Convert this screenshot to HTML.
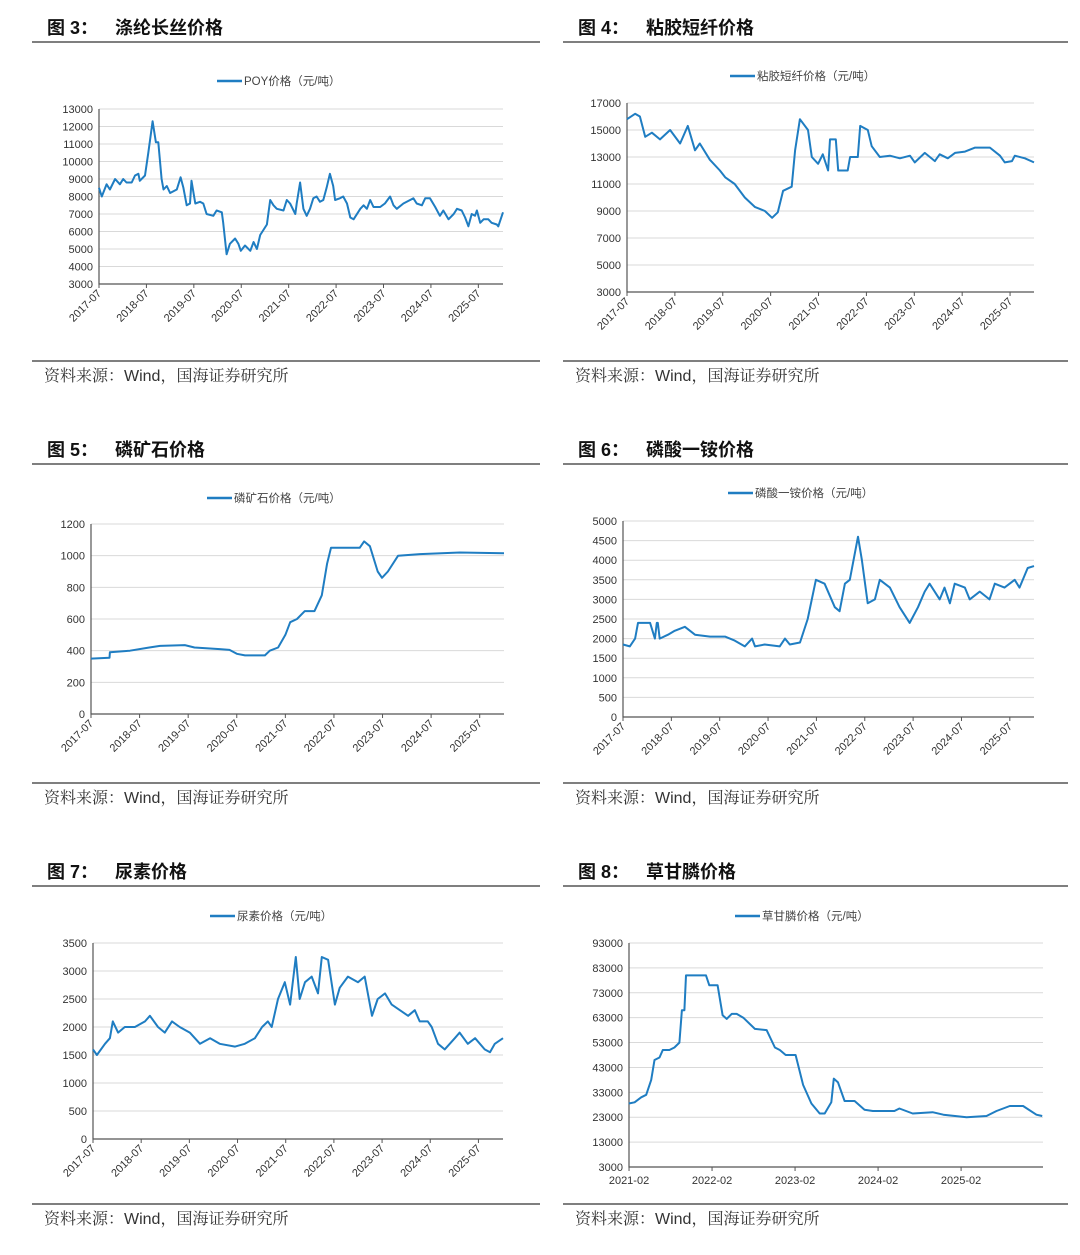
<!DOCTYPE html>
<html><head><meta charset="utf-8"><style>
html,body{margin:0;padding:0;background:#fff;}
svg{display:block;}
text{font-family:"Liberation Sans","Noto Sans CJK SC",sans-serif;}
text.src{font-family:"Liberation Sans","Noto Serif CJK SC",serif;}
</style></head><body>
<svg id="page" width="1080" height="1255" viewBox="0 0 1080 1255" xmlns="http://www.w3.org/2000/svg"></svg>
<script>
// ---- Chart 3: POY ----
const poyDates=[2017.50,2017.56,2017.66,2017.73,2017.84,2017.94,2018.01,2018.08,2018.19,2018.26,2018.33,2018.36,2018.47,2018.54,2018.63,2018.70,2018.75,2018.82,2018.86,2018.93,2019.00,2019.14,2019.22,2019.28,2019.35,2019.42,2019.45,2019.53,2019.63,2019.70,2019.77,2019.91,2019.98,2020.09,2020.12,2020.19,2020.26,2020.37,2020.44,2020.49,2020.58,2020.69,2020.76,2020.83,2020.90,2021.04,2021.11,2021.18,2021.25,2021.39,2021.46,2021.53,2021.64,2021.67,2021.74,2021.81,2021.88,2021.95,2022.02,2022.09,2022.16,2022.23,2022.30,2022.37,2022.44,2022.48,2022.58,2022.65,2022.73,2022.80,2022.87,2023.01,2023.08,2023.15,2023.22,2023.29,2023.43,2023.53,2023.64,2023.71,2023.78,2023.92,2024.06,2024.13,2024.20,2024.31,2024.38,2024.48,2024.59,2024.69,2024.76,2024.87,2024.98,2025.05,2025.15,2025.22,2025.29,2025.36,2025.43,2025.47,2025.54,2025.61,2025.71,2025.78,2025.89,2025.92,2026.02];
const poyValues=[8500,8000,8700,8400,9000,8700,9000,8800,8800,9200,9300,8900,9200,10500,12300,11100,11100,9000,8400,8600,8200,8400,9100,8500,7500,7600,8900,7600,7700,7600,7000,6900,7200,7100,6500,4700,5300,5600,5300,4900,5200,4900,5400,5000,5800,6400,7800,7500,7300,7200,7800,7600,7000,7600,8800,7300,6900,7300,7900,8000,7700,7800,8500,9300,8600,7800,7900,8000,7600,6800,6700,7300,7500,7300,7800,7400,7400,7600,8000,7500,7300,7600,7800,7900,7600,7500,7900,7900,7400,6900,7200,6700,7000,7300,7200,6800,6300,7000,6900,7200,6500,6700,6700,6500,6400,6300,7100];
const poyTicks=[3000,4000,5000,6000,7000,8000,9000,10000,11000,12000,13000];
// ---- Chart 4: viscose ----
const vscDates=[2017.50,2017.67,2017.77,2017.88,2018.02,2018.19,2018.40,2018.61,2018.77,2018.92,2019.02,2019.23,2019.44,2019.55,2019.75,2019.96,2020.17,2020.38,2020.53,2020.65,2020.76,2020.94,2021.01,2021.11,2021.28,2021.36,2021.49,2021.59,2021.70,2021.74,2021.86,2021.91,2022.11,2022.16,2022.32,2022.37,2022.53,2022.61,2022.78,2022.99,2023.20,2023.41,2023.51,2023.72,2023.93,2024.03,2024.20,2024.35,2024.56,2024.77,2025.08,2025.29,2025.39,2025.54,2025.60,2025.81,2026.00];
const vscValues=[15800,16200,16000,14500,14800,14300,15000,14000,15300,13500,14000,12800,12000,11500,11000,10000,9300,9000,8500,8900,10500,10800,13500,15800,15000,13000,12500,13200,12000,14300,14300,12000,12000,13000,13000,15300,15000,13800,13000,13100,12900,13100,12600,13300,12700,13200,12900,13300,13400,13700,13700,13100,12600,12700,13100,12900,12600];
const vscTicks=[3000,5000,7000,9000,11000,13000,15000,17000];
// ---- Chart 5: phosphate rock ----
const rockDates=[2017.50,2017.88,2017.89,2018.30,2018.70,2018.92,2019.43,2019.63,2020.15,2020.35,2020.50,2020.67,2021.08,2021.18,2021.35,2021.50,2021.60,2021.74,2021.90,2022.10,2022.25,2022.36,2022.44,2023.03,2023.12,2023.24,2023.40,2023.49,2023.61,2023.82,2024.27,2025.09,2026.00];
const rockValues=[350,355,390,400,420,430,435,420,410,405,380,370,370,400,420,500,580,600,650,650,750,950,1050,1050,1090,1060,900,860,900,1000,1010,1020,1015];
const rockTicks=[0,200,400,600,800,1000,1200];
// ---- Chart 6: MAP ----
const mapDates=[2017.50,2017.64,2017.75,2017.81,2018.06,2018.16,2018.20,2018.22,2018.26,2018.43,2018.57,2018.78,2018.99,2019.30,2019.61,2019.81,2020.02,2020.17,2020.23,2020.43,2020.74,2020.85,2020.95,2021.16,2021.32,2021.49,2021.67,2021.88,2021.98,2022.09,2022.19,2022.36,2022.44,2022.56,2022.71,2022.81,2023.02,2023.22,2023.43,2023.60,2023.74,2023.84,2024.05,2024.15,2024.26,2024.36,2024.57,2024.67,2024.88,2025.08,2025.19,2025.39,2025.60,2025.70,2025.87,2026.00];
const mapValues=[1850,1800,2000,2400,2400,2000,2400,2400,2000,2100,2200,2300,2100,2050,2050,1950,1800,2000,1800,1850,1800,2000,1850,1900,2500,3500,3400,2800,2700,3400,3500,4600,4000,2900,3000,3500,3300,2800,2400,2800,3200,3400,3000,3300,2900,3400,3300,3000,3200,3000,3400,3300,3500,3300,3800,3850];
const mapTicks=[0,500,1000,1500,2000,2500,3000,3500,4000,4500,5000];
// ---- Chart 7: urea ----
const ureaDates=[2017.50,2017.58,2017.75,2017.85,2017.91,2018.02,2018.16,2018.37,2018.58,2018.68,2018.85,2018.99,2019.14,2019.30,2019.51,2019.72,2019.93,2020.13,2020.45,2020.65,2020.86,2021.01,2021.13,2021.21,2021.34,2021.48,2021.59,2021.71,2021.79,2021.90,2022.04,2022.17,2022.25,2022.38,2022.52,2022.62,2022.79,2023.00,2023.14,2023.29,2023.41,2023.56,2023.70,2023.87,2024.04,2024.18,2024.28,2024.45,2024.53,2024.66,2024.80,2025.01,2025.11,2025.28,2025.43,2025.63,2025.74,2025.84,2026.01];
const ureaValues=[1600,1500,1700,1800,2100,1900,2000,2000,2100,2200,2000,1900,2100,2000,1900,1700,1800,1700,1650,1700,1800,2000,2100,2000,2500,2800,2400,3250,2500,2800,2900,2600,3250,3200,2400,2700,2900,2800,2900,2200,2500,2600,2400,2300,2200,2300,2100,2100,2000,1700,1600,1800,1900,1700,1800,1600,1550,1700,1800];
const ureaTicks=[0,500,1000,1500,2000,2500,3000,3500];
// ---- Chart 8: glyphosate ----
const glyDates=[2021.08,2021.15,2021.23,2021.29,2021.35,2021.39,2021.45,2021.49,2021.57,2021.63,2021.69,2021.72,2021.75,2021.77,2022.01,2022.05,2022.15,2022.21,2022.26,2022.32,2022.38,2022.46,2022.60,2022.74,2022.84,2022.90,2022.97,2023.09,2023.18,2023.28,2023.38,2023.44,2023.52,2023.55,2023.60,2023.68,2023.80,2023.92,2024.02,2024.28,2024.34,2024.50,2024.74,2024.87,2025.15,2025.39,2025.51,2025.67,2025.83,2025.99,2026.06];
const glyValues=[28500,29000,31000,32000,38000,46000,47000,50000,50000,51000,53000,66000,66000,80000,80000,76000,76000,64000,62500,64500,64500,63000,58500,58000,51000,50000,48000,48000,36000,28500,24500,24500,29000,38500,37000,29500,29500,26000,25500,25500,26500,24500,25000,24000,23000,23500,25500,27500,27500,24000,23500];
const glyTicks=[3000,13000,23000,33000,43000,53000,63000,73000,83000,93000];
const yearTicks=["2017-07","2018-07","2019-07","2020-07","2021-07","2022-07","2023-07","2024-07","2025-07"];
const glyXTicks=["2021-02","2022-02","2023-02","2024-02","2025-02"];

const NS="http://www.w3.org/2000/svg";
const page=document.getElementById('page');
function mk(tag,attrs,parent,txt){const e=document.createElementNS(NS,tag);for(const k in attrs)e.setAttribute(k,attrs[k]);if(txt!==undefined)e.textContent=txt;(parent||page).appendChild(e);return e;}
function tickYear(s){const p=s.split('-');return +p[0]+(+p[1]-1)/12;}

function section(num,title,sx,ex,ty,sy){
  const g=mk('g',{});
  
  
  const t=mk('text',{x:sx+15,y:ty+7,'font-size':18,'font-weight':'bold',fill:'#111'},g,'图 '+num+'：');
  
  
  const t2=mk('text',{x:sx+83,y:ty+7,'font-size':18,'font-weight':'bold',fill:'#111'},g,title);
  
  
  const l1=mk('line',{x1:sx,x2:ex,y1:ty+15,y2:ty+15,stroke:'#333','stroke-width':1.2},g);
  
  
  const l2=mk('line',{x1:sx,x2:ex,y1:sy-14,y2:sy-14,stroke:'#333','stroke-width':1.2},g);
  
  
  const s=mk('text',{x:sx+12,y:sy+6,'font-size':16,fill:'#333','class':'src'},g,'资料来源：Wind，国海证券研究所');
  
  
}

function chart(o){
  const g=mk('g',{});
  
  
  const xs=v=>o.x0+(v-o.d0)/(o.d1-o.d0)*(o.x1-o.x0);
  const ys=v=>o.y1-(v-o.v0)/(o.v1-o.v0)*(o.y1-o.y0);
  o.yt.forEach(v=>{
    const y=ys(v);
    if(v!==o.v0){const gl=mk('line',{x1:o.x0,x2:o.x1,y1:y,y2:y,stroke:'#d9d9d9','stroke-width':1},g);
    
    }
    const tl=mk('text',{x:o.x0-6,y:y+4,'font-size':11,fill:'#333','text-anchor':'end'},g,String(v));
    
    
  });
  const ax=mk('path',{d:`M${o.x0},${o.y0}V${o.y1}H${o.x1}`,fill:'none',stroke:'#555','stroke-width':1.2},g);
  
  
  o.xt.forEach(s=>{
    const x=xs(tickYear(s));
    const tk=mk('line',{x1:x,x2:x,y1:o.y1,y2:o.y1+4,stroke:'#555'},g);
    
    
    let tl;
    if(o.rot) tl=mk('text',{x:x+3,y:o.y1+10,'font-size':11,fill:'#333','text-anchor':'end',transform:`rotate(-45 ${x+3} ${o.y1+10})`},g,s);
    else tl=mk('text',{x:x,y:o.y1+17,'font-size':11,fill:'#333','text-anchor':'middle'},g,s);
    
    
  });
  let d='';
  o.dates.forEach((t,i)=>{d+=(i?'L':'M')+xs(t).toFixed(1)+','+ys(o.vals[i]).toFixed(1);});
  const ln=mk('path',{d:d,fill:'none',stroke:'#1f7dc2','stroke-width':2,'stroke-linejoin':'round'},g);
  
  
  const lg=mk('g',{},g);
  
  
  mk('line',{x1:o.lx,x2:o.lx+25,y1:o.ly,y2:o.ly,stroke:'#1f7dc2','stroke-width':2.5},lg);
  mk('text',{x:o.lx+27,y:o.ly+4,'font-size':11.5,fill:'#444'},lg,o.label);
}

section(3,'涤纶长丝价格',32,540,27,375);
section(4,'粘胶短纤价格',563,1068,27,375);
section(5,'磷矿石价格',32,540,449,797);
section(6,'磷酸一铵价格',563,1068,449,797);
section(7,'尿素价格',32,540,871,1218);
section(8,'草甘膦价格',563,1068,871,1218);

chart({name:'poy-chart',dates:poyDates,vals:poyValues,yt:poyTicks,xt:yearTicks,rot:true,d0:2017.5,d1:2026.02,v0:3000,v1:13000,x0:99,x1:503,y0:109,y1:284,lx:217,ly:81,label:'POY价格（元/吨）'});
chart({name:'viscose-chart',dates:vscDates,vals:vscValues,yt:vscTicks,xt:yearTicks,rot:true,d0:2017.5,d1:2026.0,v0:3000,v1:17000,x0:627,x1:1034,y0:103,y1:292,lx:730,ly:76,label:'粘胶短纤价格（元/吨）'});
chart({name:'phosphate-rock-chart',dates:rockDates,vals:rockValues,yt:rockTicks,xt:yearTicks,rot:true,d0:2017.5,d1:2026.0,v0:0,v1:1200,x0:91,x1:504,y0:524,y1:714,lx:207,ly:498,label:'磷矿石价格（元/吨）'});
chart({name:'map-chart',dates:mapDates,vals:mapValues,yt:mapTicks,xt:yearTicks,rot:true,d0:2017.5,d1:2026.0,v0:0,v1:5000,x0:623,x1:1034,y0:521,y1:717,lx:728,ly:493,label:'磷酸一铵价格（元/吨）'});
chart({name:'urea-chart',dates:ureaDates,vals:ureaValues,yt:ureaTicks,xt:yearTicks,rot:true,d0:2017.5,d1:2026.01,v0:0,v1:3500,x0:93,x1:503,y0:943,y1:1139,lx:210,ly:916,label:'尿素价格（元/吨）'});
chart({name:'glyphosate-chart',dates:glyDates,vals:glyValues,yt:glyTicks,xt:glyXTicks,rot:false,d0:2021.083,d1:2026.07,v0:3000,v1:93000,x0:629,x1:1043,y0:943,y1:1167,lx:735,ly:916,label:'草甘膦价格（元/吨）'});
</script>
</body></html>
